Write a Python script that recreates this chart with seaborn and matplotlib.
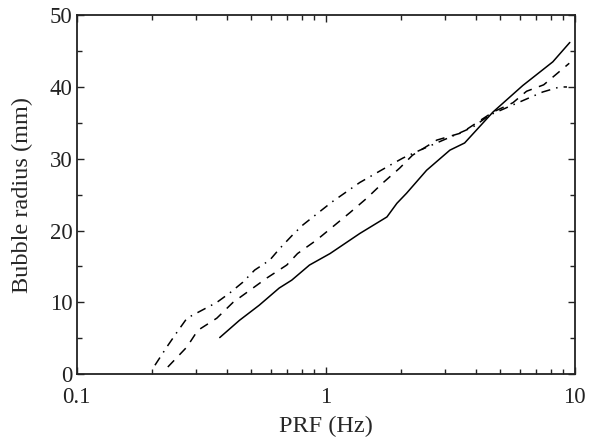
import numpy as np
import pandas as pd
import matplotlib
matplotlib.use('Agg')
import matplotlib.pyplot as plt
import seaborn as sns
from matplotlib.ticker import LogLocator, MultipleLocator, FixedLocator, FixedFormatter, NullFormatter

# curve readings (PRF in Hz, radius in mm)
solid_prf = [0.375, 0.45, 0.54, 0.65, 0.73, 0.86, 1.04, 1.37, 1.76, 1.93, 2.11, 2.54, 3.15, 3.61, 4.69, 6.18, 8.16, 9.55]
solid_r = [5.1, 7.5, 9.6, 12.0, 13.1, 15.2, 16.8, 19.6, 21.9, 23.8, 25.2, 28.4, 31.2, 32.2, 36.5, 40.2, 43.5, 46.2]

dashed_prf = [0.232, 0.277, 0.306, 0.365, 0.424, 0.496, 0.58, 0.697, 0.77, 0.92, 1.25, 1.46, 1.69, 1.98, 2.23, 2.79, 3.5, 4.69, 5.64, 6.4, 7.5, 9.5]
dashed_r = [1.0, 3.8, 6.1, 7.8, 10.0, 11.7, 13.4, 15.2, 16.8, 18.7, 22.5, 24.5, 26.6, 28.7, 30.5, 32.6, 33.6, 36.5, 37.8, 39.4, 40.3, 43.3]

dashdot_prf = [0.206, 0.23, 0.252, 0.277, 0.318, 0.365, 0.411, 0.464, 0.518, 0.596, 0.653, 0.736, 0.81, 1.06, 1.37, 1.81, 2.04, 2.39, 3.15, 3.89, 4.56, 5.64, 7.43, 8.7, 9.3]
dashdot_r = [1.25, 3.8, 5.8, 7.8, 8.9, 10.0, 11.3, 12.8, 14.5, 15.9, 17.5, 19.4, 20.8, 24.0, 26.7, 29.1, 30.1, 31.2, 33.0, 34.4, 36.1, 37.5, 39.3, 40.0, 40.0]

xtick_vals = [0.1, 1, 10]
xtick_labels = ['0.1', '1', '10']

sns.set_style('ticks')
plt.rcParams['font.family'] = ['Liberation Serif', 'DejaVu Serif']

fig = plt.figure(figsize=(6, 4.46), dpi=100)
ax = fig.add_axes([0.128, 0.161, 0.83, 0.805])

sns.lineplot(x=solid_prf, y=solid_r, ax=ax, color='black', linewidth=1.1, sort=False)
sns.lineplot(x=dashed_prf, y=dashed_r, ax=ax, color='black', linewidth=1.1, sort=False,
             linestyle=(0, (6, 5)))
sns.lineplot(x=dashdot_prf, y=dashdot_r, ax=ax, color='black', linewidth=1.1, sort=False,
             linestyle=(0, (6, 4, 1, 4)))

ax.set_xscale('log')
ax.set_xlim(0.1, 10)
ax.set_ylim(0, 50)
ax.xaxis.set_major_locator(FixedLocator(xtick_vals))
ax.xaxis.set_major_formatter(FixedFormatter(xtick_labels))
ax.xaxis.set_minor_locator(LogLocator(base=10, subs=np.arange(2, 10)))
ax.xaxis.set_minor_formatter(NullFormatter())
ax.yaxis.set_major_locator(MultipleLocator(10))
ax.yaxis.set_minor_locator(MultipleLocator(5))

for side in ['top', 'right', 'left', 'bottom']:
    ax.spines[side].set_visible(True)
    ax.spines[side].set_linewidth(1.3)
    ax.spines[side].set_color('#222222')

ax.tick_params(which='both', direction='in', top=True, right=True, colors='#222222',
               labelsize=16.5, width=1.0)
ax.tick_params(which='major', length=5)
ax.tick_params(which='minor', length=3.5)
ax.tick_params(axis='x', which='major', pad=9)
ax.tick_params(axis='y', which='major', pad=3)

ax.set_xlabel('PRF (Hz)', fontsize=17.5, labelpad=6)
ax.set_ylabel('Bubble radius (mm)', fontsize=17.5, labelpad=12)

plt.savefig('out.png', dpi=100)
plt.close()
